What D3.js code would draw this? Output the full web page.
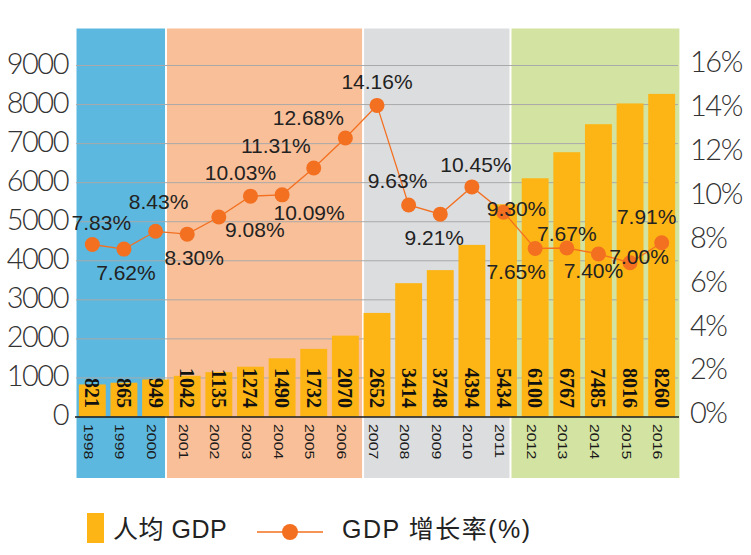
<!DOCTYPE html>
<html><head><meta charset="utf-8">
<script src="https://cdn.jsdelivr.net/npm/d3@7"></script>
<style>
html,body{margin:0;padding:0;background:#fff;}
svg{display:block;}
</style></head>
<body>
<svg id="chart" width="751" height="555"></svg>
<script>
// ---- data ----
const years = ["1998","1999","2000","2001","2002","2003","2004","2005","2006","2007","2008","2009","2010","2011","2012","2013","2014","2015","2016"];
const gdpPerCapita = [821,865,949,1042,1135,1274,1490,1732,2070,2652,3414,3748,4394,5434,6100,6767,7485,8016,8260];
const growthRate = [7.83,7.62,8.43,8.30,9.08,10.03,10.09,11.31,12.68,14.16,9.63,9.21,10.45,9.30,7.65,7.67,7.40,7.00,7.91];
const growthLabels = ["7.83%","7.62%","8.43%","8.30%","9.08%","10.03%","10.09%","11.31%","12.68%","14.16%","9.63%","9.21%","10.45%","9.30%","7.65%","7.67%","7.40%","7.00%","7.91%"];
const leftTicks = [0,1000,2000,3000,4000,5000,6000,7000,8000,9000];
const rightTicks = [0,2,4,6,8,10,12,14,16];
// period panels (start / end on year axis, fractional)
const panelStart = [1997.5, 2000.33, 2006.56, 2011.22];
const panelEnd   = [2000.33, 2006.56, 2011.22, 2016.56];
const panelColors = ["#5CB8DF","#F9BF98","#DCDDDF","#D3E3A1"];
const legendLabels = ["人均 GDP","GDP 增长率(%)"];

// ---- layout/style ----
const labelOffset = [[9,-22],[2,23],[3,-30],[7,23],[36,12],[-10,-24],[27,18],[-38,-23],[-37,-20],[0,-24],
                     [-11,-24],[-6,23],[4,-22],[13,-4],[-19,23],[0,-14],[-5,17],[9,-6],[-15,-26]];
const barColor = "#FDB515", lineColor = "#F37021";
const svg = d3.select("#chart");
const plotTop = 65, base = 416.5, panelTop = 28.5, panelBottom = 478;

const x = d3.scaleBand().domain(years).range([76.5, 677.5]).paddingInner(0.15).paddingOuter(0.075);
const yearPos = d3.scaleLinear().domain([1998, 2016]).range([x("1998")+x.bandwidth()/2, x("2016")+x.bandwidth()/2]);
const yL = d3.scaleLinear().domain([0,9000]).range([base, plotTop]);
const yR = d3.scaleLinear().domain([0,16]).range([base, plotTop]);

// panels
svg.append("g").selectAll("rect").data(panelStart).join("rect")
  .attr("x", (d,i)=> yearPos(d) + (i===0?0:1))
  .attr("width", (d,i)=> yearPos(panelEnd[i]) - yearPos(d) - (i===0?0:1) - (i===3?0:1))
  .attr("y", panelTop).attr("height", panelBottom - panelTop)
  .attr("fill", (d,i)=>panelColors[i]);

// gridlines
const gridAxis = d3.axisLeft(yL).tickValues(leftTicks.slice(1)).tickSize(-(678-76)).tickFormat("");
const gg = svg.append("g").attr("transform","translate(76,0)").call(gridAxis);
gg.select(".domain").remove();
gg.selectAll("line").attr("stroke","#A9A9A9").attr("stroke-width",1);

// left axis labels
const la = svg.append("g").attr("transform","translate(68,0)")
  .call(d3.axisLeft(yL).tickValues(leftTicks).tickSize(0).tickPadding(0).tickFormat(d3.format("d")));
la.select(".domain").remove();
la.selectAll("text").attr("font-family","Lato, 'Open Sans', sans-serif").attr("font-weight",300)
  .attr("font-size",29).attr("fill","#333").attr("letter-spacing",-1.5).attr("dy","0.28em");

// right axis labels
const ra = svg.append("g").attr("transform","translate(690,0)")
  .call(d3.axisRight(yR).tickValues(rightTicks).tickSize(0).tickPadding(0).tickFormat(d=>d+"%"));
ra.select(".domain").remove();
ra.selectAll("text").attr("font-family","Lato, 'Open Sans', sans-serif").attr("font-weight",300)
  .attr("font-size",29).attr("fill","#333").attr("letter-spacing",-1.5).attr("dy","0.22em");

// bars
svg.append("g").selectAll("rect").data(gdpPerCapita).join("rect")
  .attr("x",(d,i)=>x(years[i])).attr("width",x.bandwidth())
  .attr("y",d=>yL(d)).attr("height",d=>base-yL(d)).attr("fill",barColor);

// baseline
svg.append("line").attr("x1",75).attr("x2",679).attr("y1",base+0.5).attr("y2",base+0.5)
  .attr("stroke","#1a1a1a").attr("stroke-width",1.5);

// bar value labels
svg.append("g").selectAll("text").data(gdpPerCapita).join("text")
  .attr("transform",(d,i)=>`translate(${x(years[i])+x.bandwidth()/2},408) rotate(90)`)
  .attr("text-anchor","end").attr("dominant-baseline","central")
  .attr("font-family","'Liberation Serif', 'Times New Roman', serif").attr("font-weight","bold")
  .attr("font-size",20).attr("fill","#111").text(d=>d);

// year labels
svg.append("g").selectAll("text").data(years).join("text")
  .attr("transform",(d,i)=>`translate(${x(d)+x.bandwidth()/2-4},424) rotate(90) scale(1.22,1)`)
  .attr("text-anchor","start").attr("dominant-baseline","central")
  .attr("font-family","'Liberation Sans', Arial, sans-serif")
  .attr("font-size",13).attr("fill","#1a1a1a").text(d=>d);

// growth line
const cx = i => x(years[i]) + x.bandwidth()/2;
svg.append("path").datum(growthRate)
  .attr("d", d3.line().x((d,i)=>cx(i)).y(d=>yR(d)))
  .attr("fill","none").attr("stroke",lineColor).attr("stroke-width",1.3);
svg.append("g").selectAll("circle").data(growthRate).join("circle")
  .attr("cx",(d,i)=>cx(i)).attr("cy",d=>yR(d)).attr("r",7.5).attr("fill",lineColor);

// growth labels
svg.append("g").selectAll("text").data(growthRate).join("text")
  .attr("x",(d,i)=>cx(i)+labelOffset[i][0]).attr("y",(d,i)=>yR(d)+labelOffset[i][1])
  .attr("text-anchor","middle").attr("dominant-baseline","central")
  .attr("font-family","'Liberation Sans', Arial, sans-serif").attr("font-size",21).attr("fill","#222")
  .text((d,i)=>growthLabels[i]);

// legend
const lg = svg.append("g");
lg.append("rect").attr("x",87).attr("y",513).attr("width",17).attr("height",30).attr("fill",barColor);
lg.append("text").attr("x",113).attr("y",538).text(legendLabels[0])
  .attr("font-family","'Liberation Sans', 'Noto Sans CJK SC', sans-serif").attr("font-size",25)
  .attr("letter-spacing",0.5).attr("fill","#222");
lg.append("line").attr("x1",257).attr("x2",323).attr("y1",532).attr("y2",532).attr("stroke",lineColor).attr("stroke-width",1.3);
lg.append("circle").attr("cx",290).attr("cy",532).attr("r",8).attr("fill",lineColor);
lg.append("text").attr("x",342).attr("y",538).text(legendLabels[1])
  .attr("font-family","'Liberation Sans', 'Noto Sans CJK SC', sans-serif").attr("font-size",25)
  .attr("letter-spacing",1.5).attr("fill","#222");
</script>
</body></html>
